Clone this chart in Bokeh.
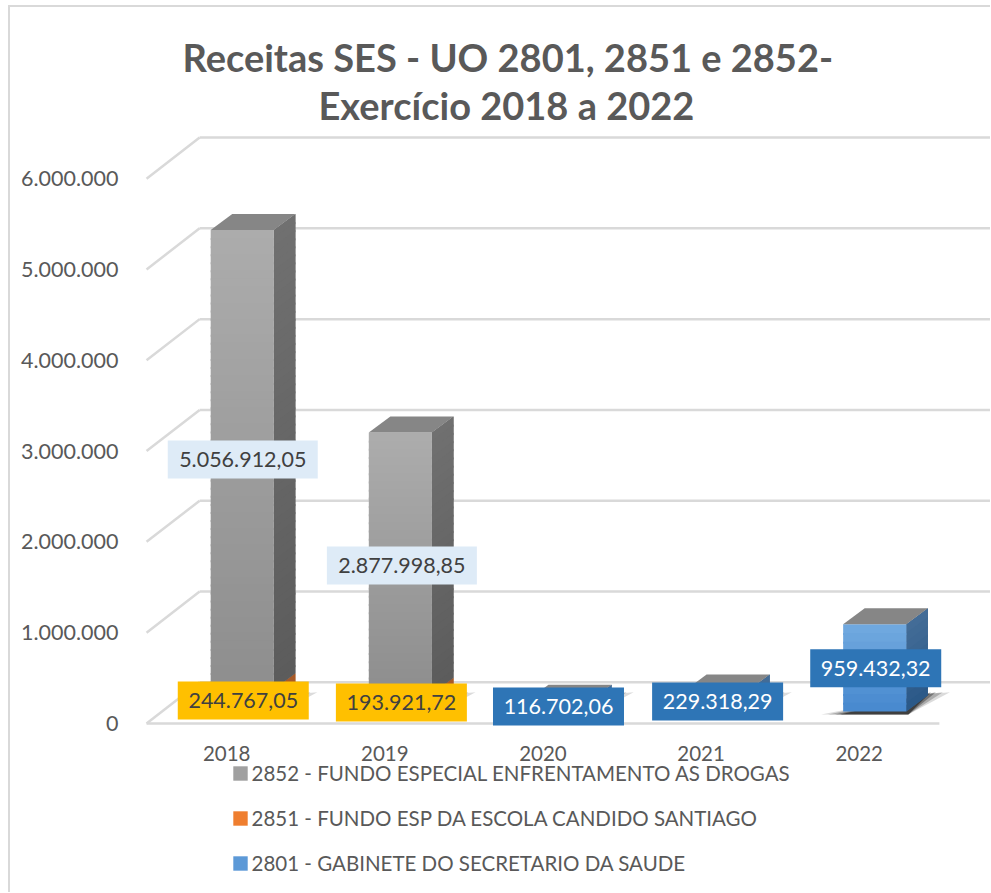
from bokeh.plotting import figure
from bokeh.layouts import column
from bokeh.embed import file_html
from bokeh.resources import INLINE
from bokeh.models import FixedTicker, Legend, LegendItem, Title

categories = ["2018", "2019", "2020", "2021", "2022"]
gray_values = [5056912.05, 2877998.85, 0, 0, 0]
orange_values = [244767.05, 193921.72, 0, 0, 0]
blue_values = [0, 0, 116702.06, 229318.29, 959432.32]
y_ticks = [0, 1000000, 2000000, 3000000, 4000000, 5000000, 6000000]
y_tick_labels = ["0", "1.000.000", "2.000.000", "3.000.000", "4.000.000", "5.000.000", "6.000.000"]
legend_gray = "2852 - FUNDO ESPECIAL ENFRENTAMENTO AS DROGAS"
legend_orange = "2851 - FUNDO ESP DA ESCOLA CANDIDO SANTIAGO"
legend_blue = "2801 - GABINETE DO SECRETARIO DA SAUDE"
title_line1 = "Receitas SES - UO 2801, 2851 e 2852-"
title_line2 = "Exercício 2018 a 2022"


def fmt(v):
    s = f"{v:,.2f}"
    return s.replace(",", "#").replace(".", ",").replace("#", ".")


# scale: pixels per category and per value
PX_X = 157.75
PX_Y = 90.5e-6
px = lambda n: n / PX_X
py = lambda n: n / PX_Y

TEXT = "#595959"
GRID = "#d9d9d9"
FONT = "Lato"

p = figure(
    width=983, height=762, frame_width=861, frame_height=607,
    output_backend="svg", toolbar_location=None, tools="",
    x_range=(px(130 - 227), px(991 - 227)),
    y_range=(py(722 - 735), py(722 - 128)),
    min_border_left=119, min_border_right=0, min_border_bottom=33, min_border_top=120,
    outline_line_color=None,
    styles={"margin-left": "8px", "margin-top": "5px",
            "border-left": f"2px solid {GRID}", "border-top": f"2px solid {GRID}"},
)
p.grid.visible = False
p.add_layout(Title(text=title_line2, align="left", offset=189, text_font=FONT, text_font_size="38px",
                   text_font_style="bold", text_color=TEXT, standoff=0), "above")
p.add_layout(Title(text=title_line1, align="left", offset=53, text_font=FONT, text_font_size="38px",
                   text_font_style="bold", text_color=TEXT, standoff=0), "above")

p.yaxis.ticker = FixedTicker(ticks=y_ticks)
p.yaxis.major_label_overrides = dict(zip(y_ticks, y_tick_labels))
p.xaxis.ticker = FixedTicker(ticks=list(range(len(categories))))
p.xaxis.major_label_overrides = dict(enumerate(categories))
for ax in (p.xaxis[0], p.yaxis[0]):
    ax.axis_line_color = None
    ax.major_tick_line_color = None
    ax.minor_tick_line_color = None
    ax.major_label_text_font = FONT
    ax.major_label_text_color = TEXT
p.yaxis[0].major_label_text_font_size = "21.5px"
p.xaxis[0].major_label_text_font_size = "20.5px"
p.yaxis[0].major_label_standoff = 5
p.xaxis[0].major_label_standoff = 3

# walls and floor
FX0, FX1, BX0, BX1 = px(147 - 227), px(938 - 227), px(200 - 227), px(1000 - 227)
BACK = py(41)
p.segment([FX0] * 7, y_ticks, [BX0] * 7, [t + BACK for t in y_ticks], line_color=GRID, line_width=2.5)
p.segment([BX0] * 7, [t + BACK for t in y_ticks], [BX1] * 7, [t + BACK for t in y_ticks], line_color=GRID, line_width=2.5)
p.segment([FX0], [0], [FX1], [0], line_color=GRID, line_width=2.5)

HALF = px(31.5)
SHIFT = px(15.5)
DX = px(21.5)
DY = py(16)
BASE = py(12)
N = len(categories)


def lerp(a, b, t):
    return "#%02x%02x%02x" % tuple(round(a[k] + (b[k] - a[k]) * t) for k in range(3))


# floor shadows
for grow, alpha in ((22, 0.14), (15, 0.22), (8, 0.32), (3, 0.45)):
    xs, ys = [], []
    for i in range(N):
        l, r = i + SHIFT - HALF, i + SHIFT + HALF
        xs.append([l - px(grow), r + px(2), r + DX + px(grow), r + DX - px(2)])
        ys.append([BASE - py(3), BASE - py(3), BASE + DY + py(3), BASE + DY + py(1)])
    p.patches(xs, ys, fill_color="#000000", fill_alpha=alpha, line_color=None)

# series bottom to top: colours of front top/bottom, side top/bottom
series = [
    (blue_values, (0x6f, 0xa8, 0xdf), (0x49, 0x8a, 0xcf), (0x43, 0x6c, 0x97), (0x2b, 0x59, 0x88)),
    (orange_values, (0xf4, 0x8a, 0x3f), (0xe8, 0x70, 0x22), (0xa8, 0x5a, 0x28), (0xa0, 0x50, 0x20)),
    (gray_values, (0xac, 0xac, 0xac), (0x8e, 0x8e, 0x8e), (0x70, 0x70, 0x70), (0x5c, 0x5c, 0x5c)),
]
BAND_PX = 8
bottom = [BASE] * N
for vals, ft, fb, st, sb in series:
    top = [b + v for b, v in zip(bottom, vals)]
    left = [i + SHIFT - HALF for i in range(N)]
    right = [i + SHIFT + HALF for i in range(N)]
    fl, fr, fb_, ft_, fc = [], [], [], [], []
    sx, sy, sc = [], [], []
    for i in range(N):
        if vals[i] <= 0:
            continue
        bands = max(1, int(vals[i] * PX_Y / BAND_PX))
        step = vals[i] / bands
        for k in range(bands):
            y1 = top[i] - step * k
            y0 = max(y1 - step - py(2), bottom[i])
            t = k / max(1, bands - 1)
            fl.append(left[i]); fr.append(right[i]); fb_.append(y0); ft_.append(y1)
            fc.append(lerp(ft, fb, t))
            sx.append([right[i], right[i] + DX, right[i] + DX, right[i]])
            sy.append([y1, y1 + DY, y0 + DY, y0])
            sc.append(lerp(st, sb, t))
    # solid side underneath the gradient bands
    p.patches([[right[i], right[i] + DX, right[i] + DX, right[i]] for i in range(N)],
              [[top[i], top[i] + DY, bottom[i] + DY, bottom[i]] for i in range(N)],
              fill_color=lerp(st, sb, 0.5), line_color=None)
    p.patches(sx, sy, fill_color=sc, line_color=None)
    p.quad(left=fl, right=fr, bottom=fb_, top=ft_, fill_color=fc, line_color=None)
    bottom = top

# top caps
cap_x, cap_y = [], []
for i in range(N):
    l, r = i + SHIFT - HALF, i + SHIFT + HALF
    cap_x.append([l, r, r + DX, l + DX])
    cap_y.append([bottom[i], bottom[i], bottom[i] + DY, bottom[i] + DY])
p.patches(cap_x, cap_y, fill_color="#868686", line_color=None)

# data labels (centre offsets in pixels from each category's tick / zero line)
label_layout = [
    (gray_values, [16, 17, 0, 0, 0], [263, 157.5, 0, 0, 0], 150, 38, "#deebf7", "#404040"),
    (orange_values, [16.5, 16.5, 0, 0, 0], [23, 21, 0, 0, 0], 131, 38, "#ffc000", "#404040"),
    (blue_values, [0, 0, 15.5, 16.5, 16.5], [0, 0, 17, 22, 55], 131, 38, "#2e75b6", "#ffffff"),
]
for vals, dx, dy, w, h, bg, fg in label_layout:
    idx = [i for i, v in enumerate(vals) if v > 0]
    lx = [i + px(dx[i]) for i in idx]
    ly = [py(dy[i]) for i in idx]
    p.rect(lx, ly, width=w, height=h, width_units="screen", height_units="screen",
           fill_color=bg, line_color=None)
    p.text(lx, ly, text=[fmt(vals[i]) for i in idx], text_align="center", text_baseline="middle",
           text_color=fg, text_font={"value": FONT}, text_font_size="21.5px")

# legend strip under the chart
q = figure(
    width=983, height=131, frame_width=981, frame_height=131,
    output_backend="svg", toolbar_location=None, tools="",
    x_range=(0, 1), y_range=(0, 1),
    x_axis_location=None, y_axis_location=None,
    min_border_left=0, min_border_right=0, min_border_bottom=0, min_border_top=0,
    outline_line_color=None, background_fill_color=None, border_fill_color=None,
    styles={"margin-left": "8px", "margin-top": "-6px", "border-left": f"2px solid {GRID}"},
)
q.grid.visible = False
nan = float("nan")
r_gray = q.quad(left=[nan], right=[nan], bottom=[nan], top=[nan], fill_color="#a0a0a0", line_color=None)
r_orange = q.quad(left=[nan], right=[nan], bottom=[nan], top=[nan], fill_color="#ef7e2f", line_color=None)
r_blue = q.quad(left=[nan], right=[nan], bottom=[nan], top=[nan], fill_color="#5c99d7", line_color=None)
legend = Legend(
    items=[LegendItem(label=legend_gray, renderers=[r_gray]),
           LegendItem(label=legend_orange, renderers=[r_orange]),
           LegendItem(label=legend_blue, renderers=[r_blue])],
    location=(220.5, 17), orientation="vertical",
    background_fill_alpha=0, border_line_color=None, margin=0, padding=0,
    spacing=21, glyph_width=18, glyph_height=18, label_standoff=3,
    label_text_font=FONT, label_text_font_size="20.5px", label_text_color=TEXT,
)
q.add_layout(legend, "center")

open("out.html", "w").write(file_html(column(p, q, spacing=0), INLINE))
